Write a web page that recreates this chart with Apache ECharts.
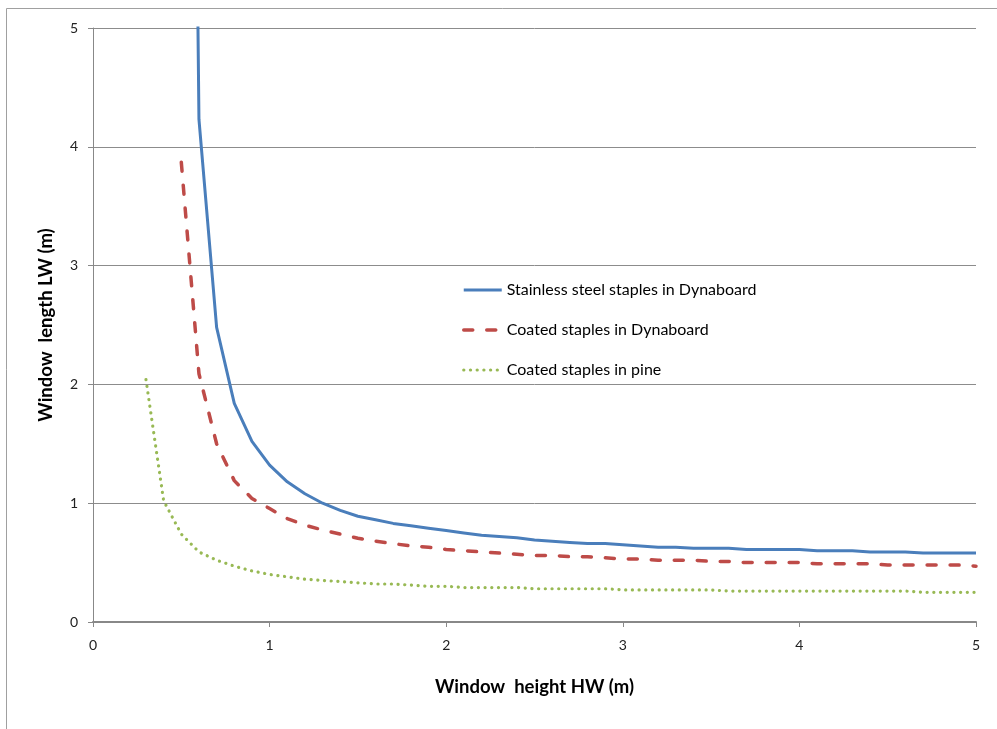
<!DOCTYPE html>
<html>
<head>
<meta charset="utf-8">
<script src="https://cdn.jsdelivr.net/npm/echarts@6/dist/echarts.min.js"></script>
<style>
html,body{margin:0;padding:0;background:#fff;}
#chart{width:997px;height:729px;}
</style>
</head>
<body>
<div id="chart"></div>
<script>
var seriesNames = ['Stainless steel staples in Dynaboard', 'Coated staples in Dynaboard', 'Coated staples in pine'];

var stainlessX = [0.59,0.6,0.7,0.8,0.9,1.0,1.1,1.2,1.3,1.4,1.5,1.6,1.7,1.8,1.9,2.0,2.1,2.2,2.3,2.4,2.5,2.6,2.7,2.8,2.9,3.0,3.1,3.2,3.3,3.4,3.5,3.6,3.7,3.8,3.9,4.0,4.1,4.2,4.3,4.4,4.5,4.6,4.7,4.8,4.9,5.0];
var stainlessY = [5.6,4.23,2.48,1.84,1.52,1.32,1.18,1.08,1.0,0.94,0.89,0.86,0.83,0.81,0.79,0.77,0.75,0.73,0.72,0.71,0.69,0.68,0.67,0.66,0.66,0.65,0.64,0.63,0.63,0.62,0.62,0.62,0.61,0.61,0.61,0.61,0.60,0.60,0.60,0.59,0.59,0.59,0.58,0.58,0.58,0.58];

var coatedDynaX = [0.5,0.6,0.7,0.8,0.9,1.0,1.1,1.2,1.3,1.4,1.5,1.6,1.7,1.8,1.9,2.0,2.1,2.2,2.3,2.4,2.5,2.6,2.7,2.8,2.9,3.0,3.1,3.2,3.3,3.4,3.5,3.6,3.7,3.8,3.9,4.0,4.1,4.2,4.3,4.4,4.5,4.6,4.7,4.8,4.9,5.0];
var coatedDynaY = [3.87,2.09,1.50,1.19,1.04,0.955,0.87,0.815,0.775,0.74,0.705,0.68,0.66,0.64,0.63,0.61,0.60,0.59,0.58,0.57,0.56,0.56,0.55,0.55,0.54,0.53,0.53,0.52,0.52,0.52,0.51,0.51,0.50,0.50,0.50,0.50,0.49,0.49,0.49,0.49,0.48,0.48,0.48,0.48,0.48,0.47];

var coatedPineX = [0.3,0.4,0.5,0.6,0.7,0.8,0.9,1.0,1.1,1.2,1.3,1.4,1.5,1.6,1.7,1.8,1.9,2.0,2.1,2.2,2.3,2.4,2.5,2.6,2.7,2.8,2.9,3.0,3.1,3.2,3.3,3.4,3.5,3.6,3.7,3.8,3.9,4.0,4.1,4.2,4.3,4.4,4.5,4.6,4.7,4.8,4.9,5.0];
var coatedPineY = [2.04,1.02,0.74,0.59,0.52,0.47,0.43,0.40,0.38,0.36,0.35,0.34,0.33,0.32,0.32,0.31,0.30,0.30,0.29,0.29,0.29,0.29,0.28,0.28,0.28,0.28,0.28,0.27,0.27,0.27,0.27,0.27,0.27,0.26,0.26,0.26,0.26,0.26,0.26,0.26,0.26,0.26,0.26,0.26,0.25,0.25,0.25,0.25];

var xTicks = [0,1,2,3,4,5];
var yTicks = [0,1,2,3,4,5];

function pairs(xs, ys){ return xs.map(function(x,i){ return [x, ys[i]]; }); }

var COLORS = ['#4A7EBB', '#BE4B48', '#98B954'];
var LINESTYLES = [
  {color:COLORS[0], width:3},
  {color:COLORS[1], width:3.5, type:[9,14], cap:'round'},
  {color:COLORS[2], width:3.2, type:[0.1,6.6], cap:'round'}
];

var FONT = 'Lato, "Liberation Sans", sans-serif';
var chart = echarts.init(document.getElementById('chart'), null, {renderer:'canvas'});
chart.setOption({
  backgroundColor:'#fff',
  animation:false,
  graphic:[{type:'rect', shape:{x:6.5,y:8.5,width:1000,height:740}, style:{fill:'none', stroke:'#a0a0a0', lineWidth:1}, silent:true, z:-1}],
  grid:{left:93, right:21, top:28, bottom:107, containLabel:false},
  legend:{
    orient:'vertical', left:457, top:277, itemWidth:38, itemHeight:14, itemGap:24,
    itemStyle:{opacity:0},
    textStyle:{fontFamily:FONT, fontSize:16, color:'#000'},
    data:seriesNames.map(function(n,i){ return {name:n, lineStyle:LINESTYLES[i]}; })
  },
  xAxis:{
    type:'value', min:xTicks[0], max:xTicks[xTicks.length-1], interval:1,
    name:'Window  height HW (m)', nameLocation:'middle', nameGap:56,
    nameTextStyle:{fontFamily:FONT, fontSize:18.5, fontWeight:'bold', color:'#000'},
    axisLine:{show:true, onZero:false, lineStyle:{color:'#888', width:2}},
    axisTick:{show:true, length:5, lineStyle:{color:'#888'}},
    axisLabel:{fontFamily:FONT, fontSize:14, color:'#222', margin:16},
    splitLine:{show:false}
  },
  yAxis:{
    type:'value', min:yTicks[0], max:yTicks[yTicks.length-1], interval:1,
    name:'Window  length LW (m)', nameLocation:'middle', nameGap:37, nameRotate:90,
    nameTextStyle:{fontFamily:FONT, fontSize:18.5, fontWeight:'bold', color:'#000'},
    axisLine:{show:true, lineStyle:{color:'#888', width:1}},
    axisTick:{show:true, length:5, lineStyle:{color:'#888'}},
    axisLabel:{fontFamily:FONT, fontSize:14, color:'#222', margin:15},
    splitLine:{show:true, lineStyle:{color:'#8c8c8c', width:1}}
  },
  series:[
    {name:seriesNames[0], type:'line', data:pairs(stainlessX, stainlessY), showSymbol:false, symbol:'none', clip:true,
     itemStyle:{color:COLORS[0]}, lineStyle:LINESTYLES[0]},
    {name:seriesNames[1], type:'line', data:pairs(coatedDynaX, coatedDynaY), showSymbol:false, symbol:'none', clip:true,
     itemStyle:{color:COLORS[1]}, lineStyle:LINESTYLES[1]},
    {name:seriesNames[2], type:'line', data:pairs(coatedPineX, coatedPineY), showSymbol:false, symbol:'none', clip:true,
     itemStyle:{color:COLORS[2]}, lineStyle:LINESTYLES[2]}
  ]
});
</script>
</body>
</html>
